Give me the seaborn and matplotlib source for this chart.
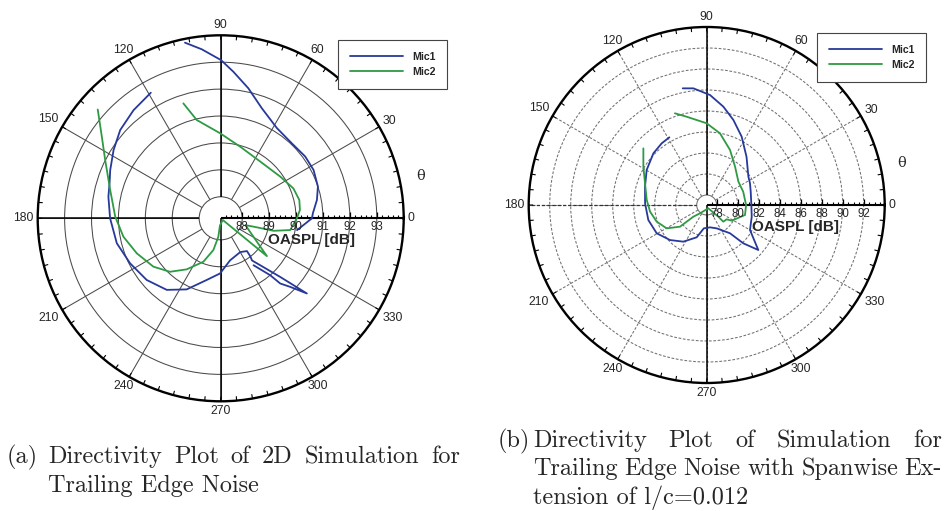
import numpy as np
import pandas as pd
import matplotlib
matplotlib.use("Agg")
import matplotlib.pyplot as plt
from matplotlib import font_manager
import seaborn as sns

# ---------------- data: OASPL directivity [dB] vs. angle [deg] ----------------
# NaN marks a stretch where the level falls below the plotted range.
# (a) 2D simulation
a_mic1_theta = [101.5, 96.4, 89.9, 85.1, 78.0, 69.6, 58.1, 46.6, 36.2, 27.5, 18.1, 10.8, 3.1, 0.0,
                -4.6, -8.8, -30.0, -55.0, -49.0, -47.6, -44.6, -41.1, -44.6, -53.4, -52.1, -51.3,
                -60.0, -77.4, -90.7, -102.8, -115.6, -127.0, -140.2, -153.6, -166.5, -180.0,
                -190.9, -197.5, -203.6, -212.5, -221.3, -231.1, -240.9]
a_mic1_spl = [93.86, 93.52, 93.08, 92.67, 92.14, 91.57, 91.15, 91.04, 91.09, 91.09, 91.00, 90.84,
              90.63, 90.59, 90.29, 90.07, np.nan, 89.33, 90.00, 90.48, 90.83, 91.45, 90.30, 89.15,
              88.99, 88.76, 88.65, 88.80, 89.25, 89.55, 90.13, 90.53, 90.78, 90.96, 91.17, 91.31,
              91.45, 91.53, 91.68, 91.92, 92.17, 92.36, 92.54]
a_mic2_theta = [108.0, 103.7, 90.4, 74.9, 55.2, 35.1, 22.4, 13.1, 6.0, 0.0, -9.6, -13.3, -14.0,
                -15.4, -39.3, -39.0, -96.0, -97.3, -103.0, -111.8, -123.7, -133.5, -144.3, -157.4,
                -169.3, -180.9, -194.4, -206.8, -214.5, -221.5]
a_mic2_spl = [91.69, 90.96, 90.36, 89.96, 89.77, 89.90, 90.12, 90.20, 90.16, 90.03, 89.82, 89.22,
              88.59, 88.15, 89.42, 87.30, 87.47, 87.89, 88.41, 88.94, 89.48, 89.94, 90.28, 90.58,
              90.88, 91.12, 91.44, 92.01, 92.56, 93.30]

# (b) spanwise extension l/c = 0.012
b_mic1_theta = [101.6, 96.5, 88.3, 80.4, 72.6, 62.9, 50.4, 34.2, 26.6, 16.9, 2.0, -14.6, -30.0,
                -41.1, -46.3, -50.5, -66.8, -81.6, -97.0, -107.2, -122.5, -136.3, -150.5, -165.6,
                -181.5, -196.6, -210.3, -224.1, -233.9, -241.1]
b_mic1_spl = [88.39, 88.23, 87.53, 86.55, 85.54, 84.36, 83.00, 81.85, 81.66, 81.43, 81.30, 81.48,
              81.81, 83.57, 82.10, 80.54, 79.47, 79.20, 79.29, 80.27, 81.19, 81.88, 82.52, 82.79,
              82.92, 83.18, 83.67, 84.12, 84.32, 84.41]
b_mic2_theta = [109.1, 102.8, 90.0, 79.5, 67.0, 53.5, 36.4, 20.0, 0.0, -14.6, -32.1, -35.6, -45.2,
                -45.2, -64.0, -129.0, -138.8, -140.9, -149.7, -161.6, -173.3, -184.8, -199.4,
                -211.2, -221.8]
b_mic2_spl = [86.29, 85.67, 84.83, 83.99, 82.74, 81.59, 80.80, 80.75, 80.80, 80.82, 79.86, 79.39,
              79.29, 78.62, 77.40, 78.07, 78.74, 80.32, 81.46, 82.07, 82.48, 82.78, 83.28, 84.10,
              85.14]

series_names = ["Mic1", "Mic2"]
theta_ticks = list(range(0, 360, 30))
a_rticks = [88, 89, 90, 91, 92, 93]
b_rticks = [78, 80, 82, 84, 86, 88, 90, 92]

caption_a_tag = "(a)"
caption_a1 = ["Directivity", "Plot", "of", "2D", "Simulation", "for"]
caption_a2 = "Trailing Edge Noise"
caption_b_tag = "(b)"
caption_b1 = ["Directivity", "Plot", "of", "Simulation", "for"]
caption_b2 = ["Trailing", "Edge", "Noise", "with", "Spanwise", "Ex-"]
caption_b3 = "tension of l/c=0.012"

# ---------------- styling ----------------
W, H = 944, 511
BLUE, GREEN = "#27399a", "#2e9a44"
SANS = "Liberation Sans"

sns.set_theme(style="white")
plt.rcParams["font.family"] = [SANS, "DejaVu Sans"]

fig = plt.figure(figsize=(W / 100, H / 100), dpi=100)


def frame(mic1_t, mic1_r, mic2_t, mic2_r):
    rows = []
    for name, tt, rr in ((series_names[0], mic1_t, mic1_r), (series_names[1], mic2_t, mic2_r)):
        seg = 0
        for t, r in zip(tt, rr):
            if np.isnan(r):
                seg += 1
                continue
            rows.append({"theta": np.deg2rad(t), "spl": r, "mic": name, "seg": f"{name}-{seg}"})
    return pd.DataFrame(rows)


def panel(cx, cy, R, df, r0, rmin, rmax, circles, rticks, minor_step, dashed,
          label_spl, legend_xy):
    ax = fig.add_axes([(cx - R) / W, 1 - (cy + R) / H, 2 * R / W, 2 * R / H], projection="polar")
    ax.set_facecolor("white")
    px_per_db = R / (rmax - r0)
    gcol = "#4a4a4a" if not dashed else "#707070"
    gls = "-" if not dashed else (0, (2.6, 1.6))

    sns.lineplot(data=df, x="theta", y="spl", hue="mic", hue_order=series_names,
                 units="seg", palette=[BLUE, GREEN], sort=False, estimator=None, lw=1.3,
                 ax=ax, zorder=5)
    for ln in ax.get_lines():
        ln.set_clip_on(False)
    if ax.get_legend() is not None:
        ax.get_legend().remove()

    ax.set_rorigin(r0)
    ax.set_ylim(rmin, rmax)
    ax.set_xlabel("")
    ax.set_ylabel("")
    ax.set_xticks(np.deg2rad(theta_ticks))
    ax.set_xticklabels([])
    ax.set_yticks(circles)
    ax.set_yticklabels([])
    ax.tick_params(length=0)
    ax.grid(True, color=gcol, lw=0.75, ls=gls)
    ax.spines["polar"].set(lw=1.7, color="black")
    ax.spines["inner"].set(lw=0.75, color=gcol)

    # cross lines and radial axis
    k = dict(color="black", clip_on=False, zorder=3, solid_capstyle="butt")
    ax.plot([np.pi / 2] * 2, [rmin, rmax], lw=1.1, **k)
    ax.plot([1.5 * np.pi] * 2, [r0, rmax], lw=1.1, **k)
    if not dashed:
        ax.plot([np.pi] * 2, [rmin, rmax], lw=1.1, **k)
    else:
        ax.plot([np.pi] * 2, [rmin, rmax], lw=0.9, color="#333333", ls=gls, zorder=3)
    ax.plot([0, 0], [r0, rmax], lw=1.5, **k)

    # radial axis ticks (pointing up)
    minor = np.arange(r0 + minor_step, rmax + 1e-6, minor_step)
    minor = [m for m in minor if min(abs(m - t) for t in rticks) > 1e-6]
    ax.plot(np.zeros(len(minor)), minor, ls="none", marker=2, ms=2.2, mew=0.8,
            color="black", clip_on=False, zorder=4)
    ax.plot(np.zeros(len(rticks)), rticks, ls="none", marker=2, ms=4.0, mew=0.9,
            color="black", clip_on=False, zorder=4)
    for v in rticks:
        ax.annotate(str(v), xy=(0, v), xytext=(0, -9), textcoords="offset pixels",
                    ha="center", va="center", fontsize=8.3,
                    annotation_clip=False, zorder=6)
    ax.annotate("OASPL [dB]", xy=(0, label_spl), xytext=(0, -22), textcoords="offset pixels",
                ha="center", va="center", fontsize=11, fontweight="bold",
                annotation_clip=False, zorder=6)

    # ticks on the outer circle every 5 deg
    L = 4.0 / px_per_db
    tt, rr = [], []
    for a in range(0, 360, 5):
        tt += [np.deg2rad(a), np.deg2rad(a), np.nan]
        rr += [rmax - L, rmax, np.nan]
    ax.plot(tt, rr, color="black", lw=0.8, clip_on=False, zorder=4)

    # angle labels
    anns = []
    for a in theta_ticks:
        t = ax.annotate(str(a), xy=(np.deg2rad(a), rmax), xytext=(0, 0),
                        textcoords="offset pixels", ha="center", va="center",
                        fontsize=8.8, annotation_clip=False)
        anns.append((a, t))
    ax.annotate("θ", xy=(0, rmax), xytext=(17, 42), textcoords="offset pixels",
                ha="center", va="center", fontsize=10.5, family="DejaVu Serif",
                annotation_clip=False)

    handles = [plt.Line2D([], [], color=BLUE, lw=1.3), plt.Line2D([], [], color=GREEN, lw=1.3)]
    leg = ax.legend(handles, series_names, loc="upper left",
                    bbox_to_anchor=(legend_xy[0] / W, 1 - legend_xy[1] / H),
                    bbox_transform=fig.transFigure, frameon=True, fancybox=False,
                    framealpha=1, edgecolor="#444444", borderaxespad=0, borderpad=1.15,
                    handlelength=5.0, handletextpad=0.85, labelspacing=0.45,
                    prop={"family": SANS, "weight": "bold", "size": 7.6})
    leg.get_frame().set_linewidth(0.8)
    return anns


anns = []
anns += panel(220.7, 218.3, 183, frame(a_mic1_theta, a_mic1_spl, a_mic2_theta, a_mic2_spl),
              87.2, 88, 94, [89, 90, 91, 92, 93], a_rticks, 0.2, False, 90.57, (338, 40))
anns += panel(706.7, 205.0, 178, frame(b_mic1_theta, b_mic1_spl, b_mic2_theta, b_mic2_spl),
              77.05, 78, 94, [80, 82, 84, 86, 88, 90, 92], b_rticks, 0.5, True, 85.55, (817, 33))

# ---------------- captions ----------------
cap = dict(family="cmr10", fontsize=17.5, va="baseline", ha="left")


def put(s, x, y):
    return fig.text(x / W, 1 - y / H, s, **cap)


def justified(words, x0, x1, y):
    texts = [put(w, x0, y) for w in words]
    r = fig.canvas.get_renderer()
    widths = [t.get_window_extent(r).width for t in texts]
    gap = (x1 - x0 - sum(widths)) / (len(words) - 1)
    x = x0
    for t, w in zip(texts, widths):
        t.set_position((x / W, 1 - y / H))
        x += w + gap


fig.canvas.draw()
put(caption_a_tag, 7, 463)
justified(caption_a1, 48, 460, 463)
put(caption_a2, 48, 492)
put(caption_b_tag, 498, 447)
justified(caption_b1, 533, 942, 447)
justified(caption_b2, 533, 942, 475)
put(caption_b3, 533, 503.5)

# push angle labels just outside the outer circle
fig.canvas.draw()
gap = 4.0
for a, t in anns:
    bb = t.get_window_extent()
    c, s = np.cos(np.deg2rad(a)), np.sin(np.deg2rad(a))
    hw, hh = bb.width / 2, bb.height / 2
    d = min(hw / abs(c) if abs(c) > 1e-6 else 1e9, hh / abs(s) if abs(s) > 1e-6 else 1e9)
    t.xyann = ((gap + d) * c, (gap + d) * s)

fig.savefig("out.png", dpi=100, facecolor="white")
